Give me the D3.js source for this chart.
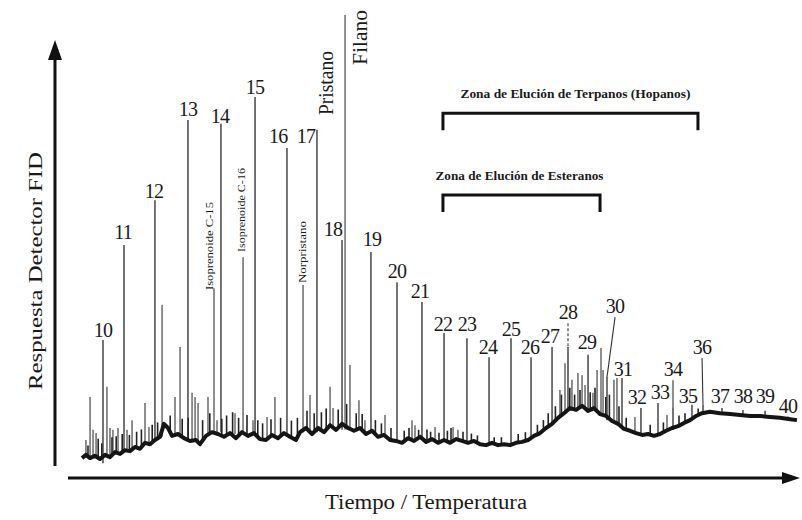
<!DOCTYPE html>
<html lang="es">
<head>
<meta charset="UTF-8">
<title>Cromatograma FID - n-alcanos, isoprenoides, esteranos y hopanos</title>
<style>
  html, body { margin: 0; background: #fff; }
  text { font-family: 'Liberation Serif', 'Times New Roman', serif; fill: #1a1a1a; }
  .trace { fill: none; stroke: #151515; stroke-width: 4; stroke-linejoin: round; }
  .peak { stroke: #2a2a2a; stroke-width: 1.3; }
  .minor { stroke: #333; stroke-width: 1.1; }
  .tiny { stroke: #222; stroke-width: 1.6; }
  .axis-line { stroke: #111; stroke-width: 3; fill: none; }
  .zone { stroke: #111; stroke-width: 3; fill: none; }
</style>
</head>
<body>
<svg id="chrom" width="802" height="520" viewBox="0 0 802 520"></svg>

<script src="https://cdn.jsdelivr.net/npm/d3@7"></script>
<script>

// retention time (min) and detector response (%)
const peakIds = [10, 11, 12, 13, 14, 15, 16, 17, 18, 19, 20, 21, 22, 23, 24, 25,
  26, 27, 28, 29, 30, 31, 32, 33, 34, 35, 36, 37, 38, 39, 40];
const peakTime = [4.0, 5.75, 8.33, 11.08, 13.83, 16.67, 19.33, 21.83, 23.92, 26.33, 28.5,
  30.58, 32.42, 34.33, 36.17, 38.0, 39.67, 41.42, 42.75, 44.42, 46.0, 47.25, 48.83, 50.25,
  51.5, 53.08, 54.0, 55.58, 57.33, 59.17, 61.08];
const peakTop = [29.8, 50.3, 60.0, 77.3, 76.5, 82.3, 71.3, 75.2, 51.4, 48.8, 42.3, 38.0,
  31.3, 30.2, 26.1, 30.2, 26.1, 28.3, 28.3, 26.6, 21.8, 21.6, 15.1, 16.2, 15.3, 15.8, 15.8,
  15.1, 14.7, 14.5, 13.3];
const peakFoot = [3.2, 5.6, 8.2, 8.6, 9.9, 9.1, 9.1, 9.9, 10.4, 9.9, 8.2, 8.2, 8.2, 8.0,
  7.3, 7.3, 8.2, 11.4, 14.7, 14.3, 12.5, 10.8, 9.5, 9.5, 10.4, 13.0, 14.0, 14.0, 13.5, 13.2, 12.7];
const labelTime = [4.0, 5.67, 8.25, 11.08, 13.75, 16.67, 18.6, 20.92, 23.17, 26.42, 28.5,
  30.42, 32.33, 34.33, 36.08, 38.0, 39.58, 41.25, 42.75, 44.33, 46.67, 47.33, 48.5, 50.42,
  51.5, 52.75, 53.92, 55.42, 57.33, 59.17, 61.08];
const labelHeight = [30.5, 51.6, 60.5, 78.2, 76.7, 82.9, 72.4, 72.4, 52.3, 50.1, 43.2, 38.9,
  31.7, 31.7, 26.8, 30.7, 26.8, 29.2, 34.3, 27.9, 35.6, 22.0, 16.0, 17.1, 22.0, 16.2, 26.8,
  16.2, 16.2, 16.2, 14.0];
const leaderIds = [28, 30, 34, 36];
const pristanoId = 17;

// phytane: [time, top, foot]
const filanoPeak = [24.17, 100, 10.4];

// unlabelled peaks: [time, top, foot]
const minorPeaks = [
  [2.58, 8.2, 4.8], [2.92, 17.5, 4.5], [3.17, 10.4, 4.8], [3.42, 9.7, 4.5], [4.33, 19.7, 4.5],
  [4.58, 10.8, 4.8], [4.83, 10.4, 5.0], [5.25, 10.8, 5.4], [6.0, 10.4, 5.8], [6.42, 12.5, 6.0],
  [7.5, 16.2, 7.3], [7.83, 11.0, 7.3], [8.92, 37.4, 8.9], [10.0, 17.5, 9.1], [10.42, 28.3, 9.1],
  [11.42, 18.4, 8.2], [11.67, 17.5, 8.0], [11.92, 16.2, 7.8], [12.75, 17.5, 9.1],
  [13.25, 41.0, 9.5], [13.5, 12.5, 9.5], [15.0, 14.0, 9.5], [15.67, 47.7, 9.7],
  [16.5, 12.5, 9.5], [17.67, 13.2, 8.2], [18.33, 17.5, 8.9], [20.67, 41.7, 9.9],
  [21.25, 17.9, 9.7], [22.92, 19.7, 10.8], [23.17, 15.1, 10.8], [24.58, 24.4, 10.8],
  [25.33, 16.8, 10.4], [25.83, 12.5, 9.9], [27.5, 13.6, 8.9], [29.75, 12.5, 8.0],
  [30.0, 11.4, 8.0], [31.67, 11.0, 7.8], [33.17, 11.0, 8.0], [33.58, 10.4, 8.0],
  [42.08, 19.0, 13.2], [42.5, 24.8, 13.8], [43.08, 21.2, 15.0], [43.58, 22.7, 14.7],
  [43.92, 22.2, 15.1], [44.17, 20.1, 14.7], [44.83, 18.4, 14.7], [45.17, 23.3, 14.3],
  [45.5, 28.1, 13.8], [45.67, 23.3, 13.6], [46.58, 21.2, 12.3], [46.83, 21.6, 12.1],
  [48.33, 13.2, 9.7], [51.0, 13.6, 10.2]
];

// short spikes that make the noisy band of the trace: [time, top, foot]
const noiseSpikes = [
  [2.75, 7.0, 4.6], [3.6, 8.5, 4.5], [3.9, 7.5, 4.3], [4.75, 8.8, 4.7], [5.1, 9.0, 5.5],
  [5.6, 9.5, 5.6], [6.2, 9.3, 5.8], [6.8, 10.0, 6.6], [7.2, 10.5, 6.4], [8.1, 11.5, 7.6],
  [8.55, 12.0, 8.5], [9.6, 13.5, 10.0], [10.6, 12.8, 8.8], [11.1, 13.0, 8.2], [12.3, 12.5, 8.0],
  [12.9, 14.0, 9.5], [13.9, 12.8, 9.0], [14.3, 13.5, 9.2], [14.8, 14.2, 9.5], [15.3, 13.0, 9.0],
  [16.0, 13.6, 9.3], [16.9, 12.5, 8.6], [17.3, 11.8, 8.3], [18.0, 12.7, 9.2], [18.8, 13.0, 8.8],
  [19.7, 12.4, 8.8], [20.2, 13.0, 9.0], [21.0, 14.5, 10.5], [21.6, 14.0, 10.0], [22.2, 14.2, 10.2],
  [22.6, 15.0, 10.5], [23.6, 14.8, 10.8], [24.3, 16.0, 11.0], [25.1, 14.0, 10.4], [25.6, 13.8, 10.4],
  [26.7, 12.5, 9.3], [27.2, 11.8, 9.1], [28.0, 10.8, 8.1], [29.1, 10.2, 7.9], [29.5, 10.8, 8.4],
  [30.3, 10.4, 8.6], [31.0, 10.5, 7.8], [31.3, 10.0, 8.2], [32.0, 9.8, 7.7], [32.7, 10.2, 7.8],
  [33.0, 10.8, 7.8], [34.0, 10.0, 7.9], [34.7, 9.6, 7.8], [35.2, 9.2, 7.5], [36.6, 8.8, 7.4],
  [37.2, 8.8, 7.2], [38.6, 9.5, 7.6], [39.2, 9.9, 8.0], [40.2, 11.5, 9.4], [40.7, 12.5, 10.3],
  [41.1, 14.0, 11.0], [41.7, 15.5, 12.5], [42.2, 18.0, 13.6], [42.9, 19.5, 15.0], [43.3, 18.0, 14.8],
  [43.75, 19.0, 15.3], [44.6, 18.5, 14.8], [45.0, 19.5, 15.0], [45.9, 17.5, 13.4], [46.2, 18.0, 12.8],
  [47.0, 15.5, 11.5], [47.6, 13.0, 10.5], [49.6, 11.5, 9.2], [50.7, 12.0, 9.8], [52.0, 13.5, 11.2],
  [52.5, 14.0, 11.9], [53.6, 15.0, 13.6]
];

// baseline of the trace: [time, response]
const baseline = [
  [2.25, 4.3], [2.58, 5.0], [2.92, 4.3], [3.33, 4.8], [3.75, 4.1], [4.17, 5.0], [4.58, 4.5],
  [5.0, 5.6], [5.42, 5.2], [5.83, 6.0], [6.25, 5.8], [6.67, 6.7], [7.08, 6.3], [7.5, 7.6],
  [7.92, 7.3], [8.33, 8.2], [8.75, 8.9], [9.08, 11.7], [9.42, 10.8], [9.75, 9.1], [10.25, 9.5],
  [10.75, 8.6], [11.25, 8.0], [11.75, 8.2], [12.08, 7.3], [12.58, 9.1], [13.08, 9.9],
  [13.58, 9.5], [14.08, 8.9], [14.58, 9.7], [15.08, 8.6], [15.58, 9.9], [16.08, 9.1],
  [16.58, 9.7], [17.08, 8.4], [17.58, 8.2], [18.08, 9.3], [18.58, 8.6], [19.08, 9.7],
  [19.58, 8.9], [20.08, 8.2], [20.42, 9.9], [20.92, 10.8], [21.42, 9.5], [21.92, 10.8],
  [22.42, 9.9], [22.92, 11.4], [23.42, 10.4], [23.92, 11.7], [24.42, 10.8], [24.92, 10.2],
  [25.42, 10.8], [25.92, 9.5], [26.42, 10.2], [26.92, 8.9], [27.42, 9.3], [27.92, 8.2],
  [28.42, 8.0], [28.92, 7.6], [29.42, 8.6], [29.92, 8.0], [30.42, 8.9], [30.92, 7.8],
  [31.42, 8.4], [31.92, 7.6], [32.42, 8.2], [32.92, 7.6], [33.42, 8.4], [33.92, 8.0],
  [34.42, 7.6], [34.92, 8.0], [35.42, 7.3], [35.92, 7.1], [36.42, 7.6], [36.92, 7.1],
  [37.42, 7.3], [37.92, 7.1], [38.42, 7.6], [38.92, 7.8], [39.42, 8.2], [39.92, 9.1],
  [40.42, 9.7], [40.92, 10.8], [41.42, 11.7], [41.92, 13.0], [42.42, 14.0], [42.92, 15.1],
  [43.42, 14.7], [43.92, 15.6], [44.42, 14.5], [44.92, 15.1], [45.42, 13.8], [45.92, 13.4],
  [46.42, 12.3], [46.92, 11.7], [47.42, 10.6], [47.92, 10.2], [48.42, 9.7], [48.92, 9.3],
  [49.42, 9.5], [49.92, 9.1], [50.42, 9.5], [50.92, 10.2], [51.42, 10.8], [51.92, 11.2],
  [52.42, 11.9], [52.92, 12.5], [53.42, 13.4], [53.92, 14.0], [54.58, 14.3], [55.42, 14.0],
  [56.25, 13.8], [57.08, 13.6], [57.92, 13.4], [58.75, 13.4], [59.58, 13.2], [60.42, 13.0],
  [61.25, 12.7], [61.83, 12.5]
];

// rotated compound names, anchored at their lower end
const compoundNames = ["Isoprenoide C-15", "Isoprenoide C-16", "Norpristano", "Pristano", "Filano"];
const compoundTime = [13.17, 15.83, 20.92, 23.17, 26.0];
const compoundHeight = [40.6, 48.8, 42.1, 78.4, 89.2];

// elution zones
const zoneNames = ["Zona de Elución de Terpanos (Hopanos)", "Zona de Elución de Esteranos"];
const zoneStart = [32.33, 32.33];
const zoneEnd = [53.58, 45.42];
const zoneLevel = [78.8, 61.1];

const svg = d3.select("#chrom");

const x = d3.scaleLinear().domain([0, 62]).range([55, 799]);
const y = d3.scaleLinear().domain([0, 100]).range([478, 15]);

// axes (plain arrows, no ticks)
const axisTop = 40, axisLeftEnd = 68, axisRight = 800;
svg.append("line").attr("class", "axis-line")
    .attr("x1", x(0)).attr("x2", x(0))
    .attr("y1", y(0) - 12).attr("y2", axisTop + 16);
svg.append("path")
    .attr("d", `M${x(0)},${axisTop} L${x(0) - 7},${axisTop + 20} L${x(0) + 7},${axisTop + 20} Z`)
    .attr("fill", "#111");
svg.append("line").attr("class", "axis-line")
    .attr("x1", axisLeftEnd).attr("x2", axisRight - 12)
    .attr("y1", y(0)).attr("y2", y(0));
svg.append("path")
    .attr("d", `M${axisRight},${y(0)} L${axisRight - 18},${y(0) - 6} L${axisRight - 18},${y(0) + 6} Z`)
    .attr("fill", "#111");

svg.append("text")
    .attr("x", 426).attr("y", 509)
    .attr("text-anchor", "middle")
    .attr("font-size", 20)
    .attr("textLength", 202).attr("lengthAdjust", "spacingAndGlyphs")
    .text("Tiempo / Temperatura");

svg.append("text")
    .attr("transform", "translate(42,271) rotate(-90)")
    .attr("text-anchor", "middle")
    .attr("font-size", 19)
    .attr("textLength", 238).attr("lengthAdjust", "spacingAndGlyphs")
    .text("Respuesta Detector FID");

// peaks
const g = svg.append("g");

g.selectAll(".tiny").data(noiseSpikes).join("line")
    .attr("class", "tiny")
    .attr("x1", d => x(d[0])).attr("x2", d => x(d[0]))
    .attr("y1", d => y(d[1])).attr("y2", d => y(d[2]));

g.selectAll(".minor").data(minorPeaks).join("line")
    .attr("class", "minor")
    .attr("x1", d => x(d[0])).attr("x2", d => x(d[0]))
    .attr("y1", d => y(d[1])).attr("y2", d => y(d[2]));

g.append("line")
    .attr("x1", x(filanoPeak[0])).attr("x2", x(filanoPeak[0]))
    .attr("y1", y(filanoPeak[1])).attr("y2", y(filanoPeak[2]))
    .attr("stroke", "#777").attr("stroke-width", 1.6);

g.selectAll(".peak").data(peakIds).join("line")
    .attr("class", "peak")
    .attr("x1", (d, i) => x(peakTime[i])).attr("x2", (d, i) => x(peakTime[i]))
    .attr("y1", (d, i) => y(peakTop[i])).attr("y2", (d, i) => y(peakFoot[i]))
    .attr("stroke-width", d => d === pristanoId ? 3 : 1.3);

// baseline trace
const traceLine = d3.line().x(d => x(d[0])).y(d => y(d[1]));
g.append("path").datum(baseline).attr("class", "trace").attr("d", traceLine);

// leaders from numbers to peaks
leaderIds.forEach(id => {
  const i = peakIds.indexOf(id);
  g.append("line")
      .attr("x1", x(labelTime[i])).attr("y1", y(labelHeight[i]) + 4)
      .attr("x2", x(peakTime[i])).attr("y2", y(peakTop[i]))
      .attr("stroke", "#333").attr("stroke-width", 1.1)
      .attr("stroke-dasharray", id === 28 ? "3,2" : null);
});

// peak numbers
svg.selectAll(".num").data(peakIds).join("text")
    .attr("class", "num")
    .attr("x", (d, i) => x(labelTime[i]))
    .attr("y", (d, i) => y(labelHeight[i]))
    .attr("text-anchor", "middle")
    .attr("font-size", 20)
    .attr("letter-spacing", -0.8)
    .text(d => d);

// compound names (rotated)
const nameLen = [88, 84, 62, 64, 55];
svg.selectAll(".cname").data(compoundNames).join("text")
    .attr("class", "cname")
    .attr("transform", (d, i) => `translate(${x(compoundTime[i])},${y(compoundHeight[i])}) rotate(-90)`)
    .attr("font-size", (d, i) => i < 3 ? 9.5 : 20)
    .attr("textLength", (d, i) => nameLen[i])
    .attr("lengthAdjust", "spacingAndGlyphs")
    .text(d => d);

// elution zone brackets
zoneNames.forEach((name, i) => {
  const x0 = x(zoneStart[i]), x1 = x(zoneEnd[i]), yl = y(zoneLevel[i]);
  svg.append("path").attr("class", "zone")
      .attr("d", `M${x0},${yl + 17} V${yl} H${x1} V${yl + 17}`);
  svg.append("text")
      .attr("x", (x0 + x1) / 2 + (i === 0 ? 5 : -2))
      .attr("y", yl - 15)
      .attr("text-anchor", "middle")
      .attr("font-size", 11.5)
      .attr("font-weight", "bold")
      .attr("textLength", i === 0 ? 230 : 168)
      .attr("lengthAdjust", "spacingAndGlyphs")
      .text(name);
});

</script>
</body>
</html>
